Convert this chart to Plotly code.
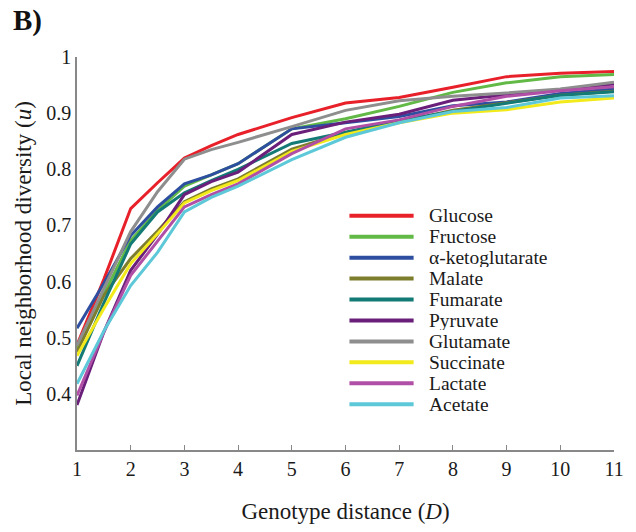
import plotly.graph_objects as go

D = [1, 1.5, 2, 2.5, 3, 3.5, 4, 5, 6, 7, 8, 9, 10, 11]

glucose = [0.487, 0.604, 0.730, 0.776, 0.820, 0.842, 0.862, 0.892, 0.918, 0.928, 0.946, 0.965, 0.971, 0.974]
fructose = [0.482, 0.579, 0.673, 0.727, 0.770, 0.790, 0.810, 0.872, 0.890, 0.912, 0.937, 0.954, 0.965, 0.969]
akg = [0.517, 0.597, 0.682, 0.733, 0.774, 0.790, 0.810, 0.872, 0.883, 0.894, 0.913, 0.920, 0.935, 0.943]
malate = [0.475, 0.575, 0.641, 0.690, 0.742, 0.765, 0.783, 0.836, 0.865, 0.884, 0.905, 0.918, 0.932, 0.939]
fumarate = [0.450, 0.562, 0.667, 0.724, 0.758, 0.780, 0.800, 0.846, 0.866, 0.887, 0.903, 0.917, 0.932, 0.938]
pyruvate = [0.380, 0.510, 0.620, 0.684, 0.755, 0.778, 0.795, 0.862, 0.884, 0.898, 0.923, 0.932, 0.942, 0.952]
glutamate = [0.486, 0.588, 0.689, 0.760, 0.818, 0.835, 0.848, 0.876, 0.905, 0.922, 0.930, 0.936, 0.943, 0.955]
succinate = [0.468, 0.552, 0.632, 0.685, 0.740, 0.762, 0.780, 0.832, 0.862, 0.883, 0.900, 0.906, 0.920, 0.927]
lactate = [0.397, 0.510, 0.611, 0.673, 0.733, 0.755, 0.774, 0.828, 0.872, 0.888, 0.912, 0.930, 0.940, 0.947]
acetate = [0.418, 0.512, 0.593, 0.652, 0.724, 0.750, 0.770, 0.817, 0.857, 0.883, 0.903, 0.910, 0.927, 0.931]

names = ["Glucose", "Fructose", "α-ketoglutarate", "Malate", "Fumarate",
         "Pyruvate", "Glutamate", "Succinate", "Lactate", "Acetate"]
series = [glucose, fructose, akg, malate, fumarate, pyruvate, glutamate,
          succinate, lactate, acetate]
colors = ["#e8202a", "#62b946", "#2e4fa0", "#7d7d2e", "#137a75",
          "#6a1f7a", "#8e8e8e", "#f2ea1a", "#b04fa5", "#5cc8d8"]

x_ticks = list(range(1, 12))
y_tickvals = [0.4, 0.5, 0.6, 0.7, 0.8, 0.9, 1.0]
y_ticktext = ["0.4", "0.5", "0.6", "0.7", "0.8", "0.9", "1"]

FONT = "Liberation Serif, Times New Roman, Times, serif"
TXT = "#1a1a1a"

# plot area in pixels (for placing the hand-built legend)
L, R, T, B = 77, 15, 57, 79
W, H = 636, 532
pw, ph = W - L - R, H - T - B

def px_to_paper(px, py):
    return (px - L) / pw, (H - B - py) / ph

fig = go.Figure()
for n, s, c in zip(names, series, colors):
    fig.add_trace(go.Scatter(x=D, y=s, mode="lines", name=n,
                             line=dict(color=c, width=3), showlegend=False))

shapes = []
annotations = []
for i, (n, c) in enumerate(zip(names, colors)):
    yy = 217 + 21.1 * i
    x0, y0 = px_to_paper(353, yy)
    x1, _ = px_to_paper(418, yy)
    shapes.append(dict(type="line", xref="paper", yref="paper",
                       x0=x0, x1=x1, y0=y0, y1=y0,
                       line=dict(color=c, width=4)))
    tx, ty = px_to_paper(433, yy)
    annotations.append(dict(text=n, x=tx, y=ty, xref="paper", yref="paper",
                            xanchor="left", yanchor="middle", showarrow=False,
                            height=19, borderpad=0, valign="middle",
                            font=dict(family=FONT, size=19.5, color=TXT)))

annotations.append(dict(text="<b>B)</b>", x=0, y=1, xref="paper", yref="paper",
                        xanchor="left", yanchor="top", showarrow=False,
                        xshift=-66, yshift=55,
                        font=dict(family=FONT, size=29, color="#111")))

fig.update_layout(
    width=W, height=H,
    margin=dict(l=L, r=R, t=T, b=B),
    paper_bgcolor="white", plot_bgcolor="white",
    font=dict(family=FONT, size=17, color=TXT),
    showlegend=False,
    xaxis=dict(range=[1, 11], tickvals=x_ticks, ticks="inside", ticklen=5,
               tickcolor="#888", showline=True, linecolor="#888", linewidth=1.5,
               showgrid=False, zeroline=False,
               tickfont=dict(family=FONT, size=20, color=TXT),
               title=dict(text="Genotype distance (<i>D</i>)",
                          font=dict(family=FONT, size=23, color=TXT), standoff=24)),
    yaxis=dict(range=[0.3, 1.0], tickvals=y_tickvals, ticktext=y_ticktext, ticks="",
               showline=True, linecolor="#888", linewidth=1.5,
               showgrid=False, zeroline=False,
               tickfont=dict(family=FONT, size=20, color=TXT),
               title=dict(text="Local neighborhood diversity (<i>u</i>)",
                          font=dict(family=FONT, size=23, color=TXT), standoff=8)),
    shapes=shapes,
    annotations=annotations,
)

fig.write_html("out.html")
